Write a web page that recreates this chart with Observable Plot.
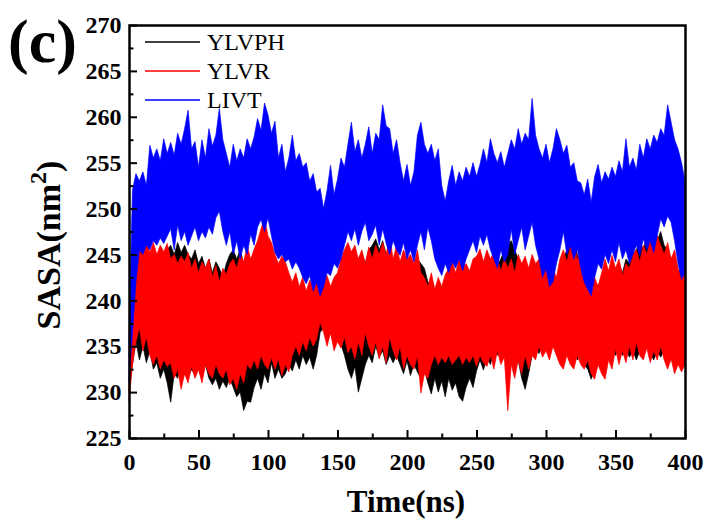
<!DOCTYPE html>
<html><head><meta charset="utf-8">
<script src="https://cdn.jsdelivr.net/npm/d3@7"></script>
<script src="https://cdn.jsdelivr.net/npm/@observablehq/plot@0.6"></script>
<style>body{margin:0;background:#fff} svg{display:block}</style>
</head><body><div id="chart"></div>
<script>
// Sampling times (ns), every 2.5 ns from 0 to 400
const times = d3.range(0, 400.001, 2.5);

// Series names and colours
const seriesNames = ["YLVPH", "YLVR", "LIVT"];
const seriesColors = ["#000000", "#ff0000", "#0000ff"];

// Upper / lower envelope of each noisy trace (nm^2)
const livtHi = [
236,252,253.8,253,254,252.5,256.9,255.5,256.5,255.2,
257.6,256,257.2,255.8,258.2,257,258.7,260.7,256.5,257.3,
254.5,257.5,255.5,258.7,256.8,258,260.9,257.5,256,254.5,
257,255.2,256.5,255.5,257.6,256.5,257.8,259.8,258.5,261.5,
260.2,258.2,259.5,255.5,257,254,255.5,258,255.2,256,
254.5,255,253,253.8,251.8,252.2,250,252,254.7,251.5,
253.2,255.5,254.5,257,259.4,256.2,257.5,255.5,257,258.9,
256,258.2,257.5,261.3,259,258.7,256,257.5,255,253,
254.8,252.5,254,258,259.4,257,256,257,255.2,256.5,
252.5,250.8,253,254.7,252.5,254,253,254.5,253.5,255,
253.5,254.8,256.5,255,257.6,256,255,256.2,254.5,256,
257.5,256.5,258.7,257,258.2,257.5,262,258,256.5,255.5,
257,255,256.5,258.7,257.5,256,256.9,254.5,255,253,
252.8,251.5,253.2,250.7,253.5,254.8,252.8,254,253.2,254.5,
253.5,255.2,254,257.6,254.5,255.5,254.2,257,255.5,257.6,
256.5,258,257.2,258.7,258,261.3,259.4,257.5,256.5,255,
253];
const livtLo = [
231,236.5,242,245.5,245,246,245.5,246.5,246,246.8,
246.2,247,247.8,245.5,248.2,246.5,247.5,246,247,248,
246.5,247.5,246.8,248,247.2,249,249.7,247.5,246,247.5,
245,246.5,244.5,246,245,247.2,246,248,248.8,247.5,
249,247,245.2,244.5,245,244.2,244.5,243.4,244.2,243.5,
242.5,241.8,242.7,241,242,240.5,241.5,243,242.7,244,
243.5,244.5,246,247.5,246.5,247.8,246,247.5,248.5,246.5,
247.2,248.2,246,247.8,246.2,245,246.5,245.5,244.9,246.3,
244.5,245.5,244.2,246,247.5,245.5,248,246.5,244.5,243.5,
242.7,244,243,244.2,243.5,244.5,243.2,244.5,245.5,246.5,
245.2,247,246,247.2,245.5,244.5,243.5,245.5,244.2,245,
247.8,245,246.5,248,245.5,247,248.5,246,244.5,242.5,
243.5,241.5,242,244,245.5,247.5,245,246,244.5,245.6,
243.5,242,241.2,240.5,242.5,244,243.4,245,244,245.5,
244.2,246.3,244.5,245.5,244,245,246,244.9,246.7,245.5,
246.5,245.2,247,248.9,248,249.2,248.5,246.5,244,242.3,
243];
const ylvrHi = [
231,241,244.5,246.5,245.5,246.7,245.2,246.3,245,246,
245.3,246.2,244.5,245,244,244.8,244.2,245.2,243.5,244.5,
243,244.2,243.5,244.5,242.5,243.8,242,243.5,242.8,244,
244.5,243.5,245,244.2,246,244.5,245.5,246.5,247.8,249,
247,246.3,245,244,244.8,244.2,243,242,243,241.5,
242.5,241,242.2,241.5,242.5,240.8,242,242.7,241.5,242.5,
243,244.5,245.5,246.3,245.3,246,244.5,245.5,244,245.8,
244.5,246,245,246.3,245,247,244.5,246,244.2,245.5,
244.5,245,244,245.5,243,242.5,241.5,243,241.2,242.5,
241.5,242.8,243.5,244.2,243,244.5,243.5,244,243.2,244.5,
244.8,245.6,244.2,245.5,244.5,245.3,244.5,243.2,244.5,243.5,
244.5,243,245,244,244.8,243.5,245,244,244.5,243,
244.5,242,243.5,242.5,244.5,245.5,244.2,245.8,246.3,244.5,
245,242.5,243,241,242.5,241.5,243,244.5,243.2,244.9,
243.5,244.5,242.7,244,243.5,244.9,245.5,244.2,246,245,
246.5,245.5,247,246,245,246.3,244.5,245.5,243.5,242.5,
244];
const ylvrLo = [
229,233,235.5,237,234.5,236,234,233,234,232.5,
233.5,232.8,233.2,231.5,232.5,230.3,232,231,232.8,231.5,
232.5,231,233,232,231.5,233,232,231.5,232.5,230.8,
231.5,230.3,232,231,233,232.5,233.5,232.5,234,233,
232.5,233.8,232.5,233.6,231.8,233,232.2,234,235,234,
235.5,234.5,236,235,235.8,237.6,236.5,235,236.5,234.5,
235.5,234.8,236,234.3,235,233.6,235.5,234,236.5,235,
234,235.5,233.6,235,233.2,236,234.5,233.5,235,232.5,
234,233,232.5,234,229.9,232,231.5,233,234,233,
233.8,233.2,234,233,233.5,234,233,233.8,233.2,234,
232.8,234,233.2,232.8,234,232.5,234.5,233,233.8,228,
233,231.5,233.5,232,234,232.5,234,233.5,235,233.8,
234.5,233.5,235,234,233,232.5,234,233,232.5,234,
233,232.5,233.5,232,231.4,233,232,231.4,233.5,232.5,
234.7,233,234.5,233.2,235,233.5,235.4,234,233.5,234.8,
233.2,234.5,233.5,235,233.5,232.5,233.6,232,233,232.2,
233];
const ylvphHi = [
230,238,242,244,243,244.5,243,244.5,243.5,245,
244,245.5,246,245,246.3,245.2,246,245,244.5,245.5,
244,244.8,243.5,244.5,243,244.2,243.5,242.5,244,245,
245.5,244.5,245.5,244,245,244,245.5,246.3,245.5,246.5,
246,245.5,244.5,243.5,244,243,242,241.5,242.5,241,
242,240.5,241.5,240.5,241.8,240.5,241.5,242,241,242,
242.5,243.5,244.5,245,244,245,244.5,245.2,244,245.5,
246,246.7,245.5,246.5,245,245.5,244,245,243.5,244.5,
243.5,244.5,243.5,244.5,244,243.5,242,241.5,240.5,241.5,
240.5,241.8,242,243,242,243.5,242.5,243.5,242.5,243.5,
243.5,244.5,243.5,244.5,243.5,244.5,243.8,244.5,245.5,246,
246.5,245.5,244.5,243.5,244,243,244,243.5,244.5,243.5,
244,242.5,243,242,243.5,244.5,245.5,246,247,245,
244,242.5,242,241,242,241.5,242.5,243.5,242.5,243.5,
243,244,243,244.5,244,245,245.5,246.5,245.5,247,
246,247.8,246.5,247.5,246,245.5,244.5,245,243,243.5,
242];
const ylvphLo = [
230,233,235.5,233.5,235,233.2,234.5,232.5,233.2,231.5,
232.5,231,228.9,232,231.5,233,232,231.5,232.5,231.8,
232.5,231.5,233,231.5,230.8,231.5,230.3,231.2,230.5,231.5,
230.5,229.5,230,228,229,228.9,230.5,231.5,230.3,232,
231,233.2,231.5,232.5,231.5,232,233,232.3,233.5,232.5,
234,233,233.8,232.5,234,236.5,237,235.5,236.5,235,
236,235.2,234,232.5,231.5,232.8,230,231.5,233,234,
233.2,235,233.8,234.5,233,234,233.2,234,233,232,
233.4,231.8,233,232.2,231.5,232.5,231,229.8,231.5,230,
231.2,229.5,231.5,230.2,231,229.5,229,230.5,231.5,230.5,
232.3,233.5,232.4,233.8,233,234.5,234,235.5,234.5,236,
233.5,232.5,233.5,231.5,230.3,232,234,235,234.2,235.5,
234.5,236,235,234.5,235.5,234.2,235,234,235.5,233.5,
234.5,233,232.5,231.4,232.5,234,233.5,234.5,233.5,234.8,
234,235,234,234.8,233.8,234.5,233.5,234.5,234,235,
234.2,233.5,234.5,233.8,234.5,233.5,234,233.2,233.8,233,
233.5];

// Axis ticks
const xMajor = [0, 50, 100, 150, 200, 250, 300, 350, 400];
const xMinor = [25, 75, 125, 175, 225, 275, 325, 375];
const yMajor = [225, 230, 235, 240, 245, 250, 255, 260, 265, 270];
const yMinor = [227.5, 232.5, 237.5, 242.5, 247.5, 252.5, 257.5, 262.5, 267.5];

const rows = times.map((t, i) => ({
  t,
  kh: ylvphHi[i], kl: ylvphLo[i],
  rh: ylvrHi[i], rl: ylvrLo[i],
  bh: livtHi[i], bl: livtLo[i]
}));

const serif = "'Liberation Serif', 'Times New Roman', serif";

function band(lo, hi, color) {
  return Plot.areaY(rows, {x: "t", y1: lo, y2: hi, fill: color, stroke: color, strokeWidth: 0.7});
}

const plot = Plot.plot({
  width: 708,
  height: 521,
  marginLeft: 129,
  marginRight: 23,
  marginTop: 25,
  marginBottom: 83,
  style: {background: "white", fontFamily: serif, color: "black"},
  x: {domain: [0, 400], label: null},
  y: {domain: [225, 270], label: null},
  marks: [
    band("kl", "kh", seriesColors[0]),
    band("rl", "rh", seriesColors[1]),
    band("bl", "bh", seriesColors[2]),
    Plot.axisX({ticks: xMajor, tickSize: -8, strokeWidth: 2, tickFormat: () => "", label: null}),
    Plot.axisX({ticks: xMinor, tickSize: -4.5, strokeWidth: 2, tickFormat: () => "", label: null}),
    Plot.axisX({ticks: xMajor, tickSize: 0, tickPadding: 14, fontSize: 24, fontWeight: "bold", label: null}),
    Plot.axisY({ticks: yMajor, tickSize: -8, strokeWidth: 2, tickFormat: () => "", label: null}),
    Plot.axisY({ticks: yMinor, tickSize: -4.5, strokeWidth: 2, tickFormat: () => "", label: null}),
    Plot.axisY({ticks: yMajor, tickSize: 0, tickPadding: 8, fontSize: 24, fontWeight: "bold", label: null}),
    Plot.frame({stroke: "black", strokeWidth: 2.5})
  ]
});

document.getElementById("chart").appendChild(plot);
const svg = d3.select(plot);

// Panel letter
svg.append("text").attr("x", 8).attr("y", 62).attr("text-anchor", "start")
  .attr("font-family", serif).attr("font-size", 62).attr("font-weight", "bold")
  .attr("fill", "black").text("(c)");

// X axis title
svg.append("text").attr("x", 406).attr("y", 512).attr("text-anchor", "middle")
  .attr("font-family", serif).attr("font-size", 31).attr("font-weight", "bold")
  .attr("fill", "black").text("Time(ns)");

// Y axis title with superscript
const yt = svg.append("text").attr("transform", "translate(60,245) rotate(-90)")
  .attr("text-anchor", "middle").attr("font-family", serif).attr("font-size", 34)
  .attr("font-weight", "bold").attr("fill", "black");
yt.append("tspan").text("SASA(nm");
yt.append("tspan").attr("font-size", 24).attr("dy", -14).text("2");
yt.append("tspan").attr("dy", 14).text(")");

// Legend
const legendY = [42, 71, 100];
seriesNames.forEach((name, i) => {
  svg.append("line").attr("x1", 145).attr("x2", 200).attr("y1", legendY[i]).attr("y2", legendY[i])
    .attr("stroke", seriesColors[i]).attr("stroke-width", 1.5);
  svg.append("text").attr("x", 207).attr("y", legendY[i] + 8).attr("text-anchor", "start")
    .attr("font-family", serif).attr("font-size", 24).attr("fill", "black").text(name);
});
</script></body></html>
